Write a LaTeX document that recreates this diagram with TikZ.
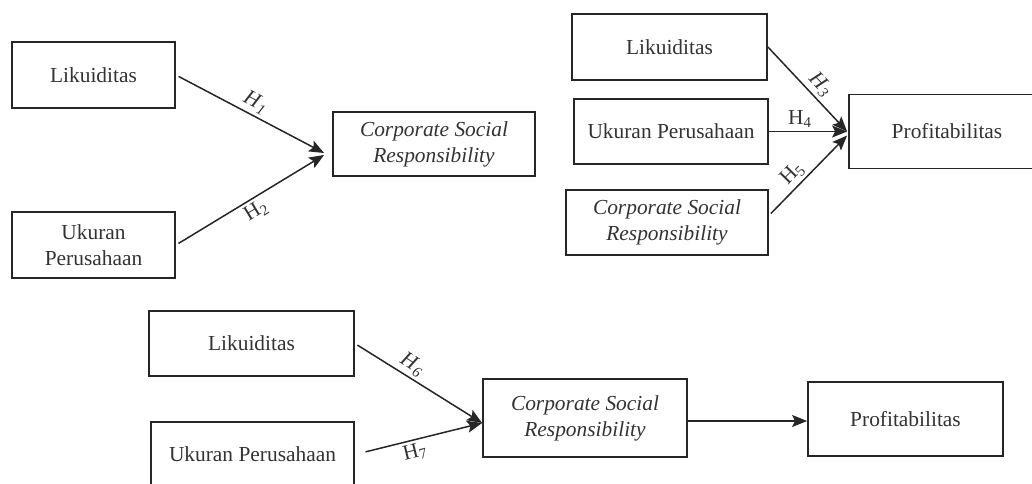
\documentclass[tikz,border=0pt]{standalone}
\usepackage{fontspec}
\setmainfont{Liberation Serif}
\usepackage{tikz}
\usetikzlibrary{arrows.meta}

\begin{document}
\begin{tikzpicture}[x=0.5pt, y=-0.5pt,
  box/.style={draw=black!85, line width=0.9pt, fill=white, text=black!80, align=center, inner sep=0pt,
    font=\fontsize{10.7}{13}\selectfont},
  link/.style={draw=black!85, line width=0.75pt, -{Stealth[length=7.5pt,width=6pt,inset=1.5pt]}},
  hlab/.style={text=black!80, font=\fontsize{10.7}{13}\selectfont, inner sep=1.5pt}]

\clip (0,0) rectangle (1032,483);

% first model
{
\node[box, minimum width=81.5pt, minimum height=33pt] (lik1) at (93.5,75) {Likuiditas};
\node[box, minimum width=81.5pt, minimum height=33pt] (uk1) at (93.5,245) {Ukuran\\Perusahaan};
\node[box, minimum width=101pt, minimum height=32pt] (csr1) at (434,144) {\textit{Corporate Social}\\\textit{Responsibility}};

\draw[link, shorten <=1.5pt] (lik1.east) -- node[hlab, midway, above, sloped] {\textit{H}\textsubscript{\textit{1}}} ([shift={(-8,9)}]csr1.west);
\draw[link, shorten <=1.5pt] (uk1.east) -- node[hlab, midway, below, sloped] {H\textsubscript{2}} ([shift={(-8,11)}]csr1.west);
}

% second model
{
\node[box, minimum width=97.5pt, minimum height=33pt] (lik2) at (669.5,47) {Likuiditas};
\node[box, minimum width=97pt, minimum height=32.5pt] (uk2) at (671,131.5) {Ukuran Perusahaan};
\node[box, minimum width=101pt, minimum height=32.5pt] (csr2) at (667,222.5) {\textit{Corporate Social}\\\textit{Responsibility}};
\node[box, minimum width=98pt, minimum height=37pt] (prof2) at (947,131.5) {Profitabilitas};

\draw[link] (lik2.east) -- node[hlab, pos=0.55, above, sloped] {\textit{H}\textsubscript{\textit{3}}} ([shift={(-1,0)}]prof2.west);
\draw[link] (uk2.east) -- node[hlab, pos=0.4, above] {H\textsubscript{4}} ([shift={(-1,0)}]prof2.west);
\draw[link] ([shift={(2,-9)}]csr2.east) -- node[hlab, pos=0.4, above, sloped] {H\textsubscript{5}} ([shift={(-1,4)}]prof2.west);
}

% third model
{
\node[box, minimum width=102.5pt, minimum height=32.5pt] (lik3) at (251.5,343.5) {Likuiditas};
\node[box, minimum width=101.5pt, minimum height=32.5pt] (uk3) at (252.5,454.5) {Ukuran Perusahaan};
\node[box, minimum width=102pt, minimum height=39pt] (csr3) at (585,418) {\textit{Corporate Social}\\\textit{Responsibility}};
\node[box, minimum width=97.5pt, minimum height=37pt] (prof3) at (905.5,419) {Profitabilitas};

\draw[link, shorten <=1.5pt] (lik3.east) -- node[hlab, pos=0.4, above, sloped] {\textit{H}\textsubscript{\textit{6}}} ([shift={(0,5)}]csr3.west);
\draw[link, shorten <=5.5pt] (uk3.east) -- node[hlab, pos=0.45, below, sloped] {H\textsubscript{7}} ([shift={(0,5)}]csr3.west);
\draw[link] ([shift={(0,3)}]csr3.east) -- ([shift={(0,2)}]prof3.west);
}

\end{tikzpicture}
\end{document}
